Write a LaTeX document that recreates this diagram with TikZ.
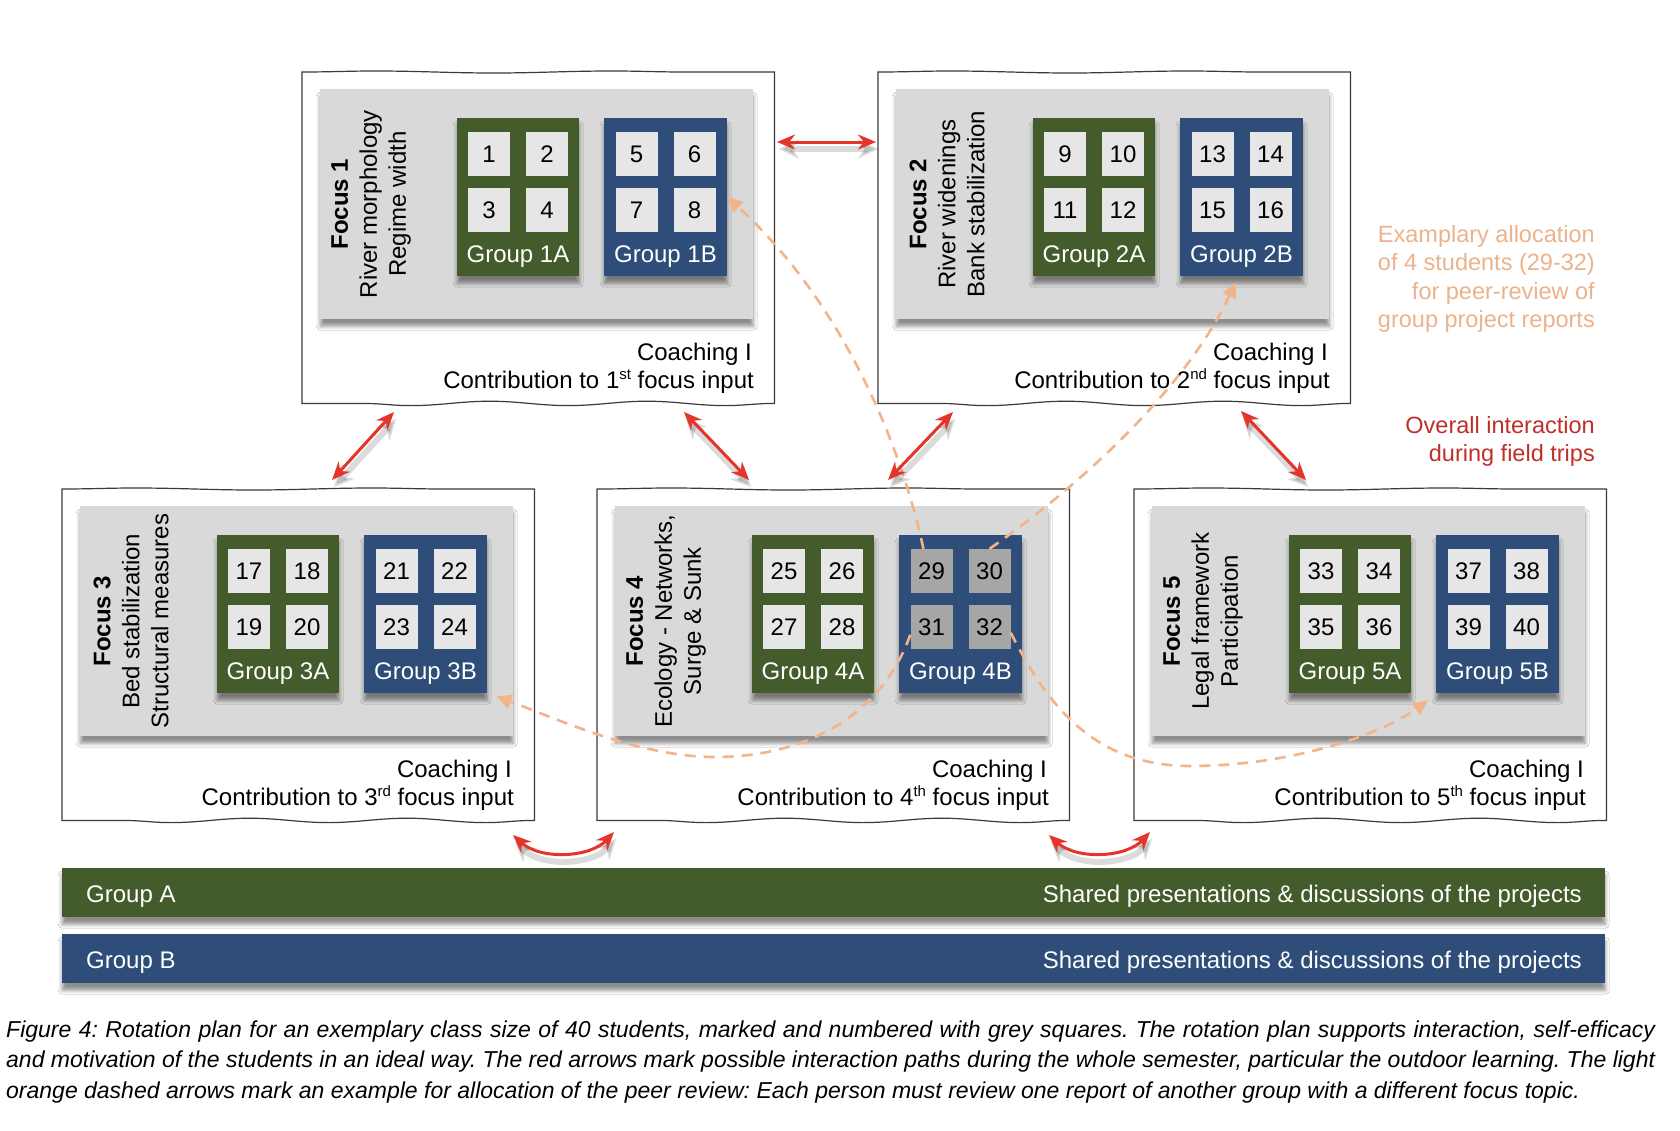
\documentclass[tikz,border=0pt]{standalone}
\usepackage{fontspec}
\setmainfont{Liberation Sans}
\frenchspacing
\usetikzlibrary{arrows.meta,decorations.pathmorphing,shadows.blur,calc}

\definecolor{grpgreen}{HTML}{445C2C}
\definecolor{grpblue}{HTML}{2E4E79}
\definecolor{boxgray}{HTML}{D9D9D9}
\definecolor{sqgray}{HTML}{E6E6E6}
\definecolor{sqdark}{HTML}{A6A6A6}
\definecolor{arrred}{HTML}{E5352B}
\definecolor{peach}{HTML}{F2B488}
\definecolor{peachtext}{HTML}{EBB38C}
\definecolor{darkred}{HTML}{C0302A}
\definecolor{framecol}{HTML}{3A3A3A}

\tikzset{
  fs/.style={font=\fontsize{24}{29}\selectfont},
  framebox/.style={minimum width=472pt, minimum height=331pt, inner sep=0pt, anchor=north west},
  framepen/.style={draw=framecol, line width=1.2pt},
  softshadow/.style={blur shadow={shadow xshift=0pt, shadow yshift=-7pt, shadow blur radius=4pt, shadow opacity=45}},
  graybox/.style={fill=boxgray, minimum width=433pt, minimum height=230pt, inner sep=0pt, anchor=north west, softshadow},
  grpA/.style={fill=grpgreen, minimum width=122pt, minimum height=158pt, inner sep=0pt, anchor=north west, softshadow},
  grpB/.style={fill=grpblue, minimum width=123pt, minimum height=158pt, inner sep=0pt, anchor=north west, softshadow},
  sq/.style={fill=sqgray, minimum width=42pt, minimum height=44pt, inner sep=0pt, fs},
  sqd/.style={sq, fill=sqdark},
  glabel/.style={text=white, fs, anchor=base, inner sep=0pt},
  focustext/.style={fs, rotate=90, align=center, inner sep=0pt},
  coach/.style={fs, anchor=base east, inner sep=0pt},
  redarr/.style={draw=arrred, line width=3pt, {Stealth[length=18pt,width=15pt]}-{Stealth[length=18pt,width=15pt]}},
  redshadow/.style={draw=black, opacity=0.14, line width=6pt, transform canvas={xshift=2pt,yshift=-7pt}, {Stealth[length=20pt,width=19pt]}-{Stealth[length=20pt,width=19pt]}},
  peacharr/.style={draw=peach, line width=2.6pt, dash pattern=on 11pt off 8pt, -{Triangle[length=15pt,width=14pt]}},
  bar/.style={minimum width=1543pt, minimum height=49pt, inner sep=0pt, anchor=north west, softshadow},
  bartext/.style={text=white, fs, inner sep=0pt},
  sidetext/.style={font=\fontsize{23.5}{28}\selectfont, anchor=base east, inner sep=0pt},
  captext/.style={font=\fontsize{23}{27}\selectfont\itshape, anchor=base west, inner sep=0pt},
}

\newcommand\focusblock[8]{%
  \pgfmathtruncatemacro\na{#6}\pgfmathtruncatemacro\nb{#6+1}%
  \pgfmathtruncatemacro\nc{#6+2}\pgfmathtruncatemacro\nd{#6+3}%
  \pgfmathtruncatemacro\ne{#6+4}\pgfmathtruncatemacro\nf{#6+5}%
  \pgfmathtruncatemacro\ng{#6+6}\pgfmathtruncatemacro\nh{#6+7}%
  \begin{scope}[shift={(#2,#3)}]
    \node[framebox] (fr#1) at (0,0) {};
    \draw[framepen] (fr#1.north west)
      decorate[decoration={snake,amplitude=1pt,segment length=236pt}]{-- (fr#1.north east)}
      -- (fr#1.south east)
      decorate[decoration={snake,amplitude=2.2pt,segment length=157pt}]{-- (fr#1.south west)}
      -- cycle;
    \node[graybox] (gb#1) at (18,17) {};
    \node[grpA] (g#1A) at (155,46) {};
    \node[grpB] (g#1B) at (302,46) {};
    \node[sq] (s\na) at (187,82) {\na};
    \node[sq] (s\nb) at (245,82) {\nb};
    \node[sq] (s\nc) at (187,138) {\nc};
    \node[sq] (s\nd) at (245,138) {\nd};
    \node[#8] (s\ne) at (334.5,82) {\ne};
    \node[#8] (s\nf) at (392.5,82) {\nf};
    \node[#8] (s\ng) at (334.5,138) {\ng};
    \node[#8] (s\nh) at (392.5,138) {\nh};
    \node[glabel] (l#1A) at (216,190) {Group #1A};
    \node[glabel] (l#1B) at (363.5,190) {Group #1B};
    \node[focustext] (ft#1) at (69,132) {\textbf{Focus #1}\\#4\\#5};
    \node[coach] (co#1) at (450,288) {Coaching I};
    \node[coach] (ct#1) at (452,316) {Contribution to #1{\fontsize{15}{15}\selectfont\raisebox{9pt}{#7}} focus input};
  \end{scope}}

\begin{document}
\begin{tikzpicture}[x=1pt,y=-1pt]
\useasboundingbox (0,0) rectangle (1680,1130);
\fill[white] (0,0) rectangle (1680,1130);

\focusblock{1}{302}{72}{River morphology}{Regime width}{1}{st}{sq}
\focusblock{2}{878}{72}{River widenings}{Bank stabilization}{9}{nd}{sq}
\focusblock{3}{62}{489}{Bed stabilization}{Structural measures}{17}{rd}{sq}
\focusblock{4}{597}{489}{Ecology - Networks,}{Surge \& Sunk}{25}{th}{sqd}
\focusblock{5}{1134}{489}{Legal framework}{Participation}{33}{th}{sq}

% bottom bars
\node[bar, fill=grpgreen] (barA) at (62,868) {};
\node[bar, fill=grpblue] (barB) at (62,934) {};
\node[bartext, anchor=base west] (barAl) at (86,902) {Group A};
\node[bartext, anchor=base east] (barAr) at (1582,902) {Shared presentations \& discussions of the projects};
\node[bartext, anchor=base west] (barBl) at (86,968) {Group B};
\node[bartext, anchor=base east] (barBr) at (1582,968) {Shared presentations \& discussions of the projects};

% side notes
\node[sidetext, text=peachtext] (ex1) at (1595,242) {Examplary allocation};
\node[sidetext, text=peachtext] (ex2) at (1595,270.5) {of 4 students (29-32)};
\node[sidetext, text=peachtext] (ex3) at (1595,299) {for peer-review of};
\node[sidetext, text=peachtext] (ex4) at (1595,327.5) {group project reports};
\node[sidetext, text=darkred] (ov1) at (1595,433) {Overall interaction};
\node[sidetext, text=darkred] (ov2) at (1595,461.5) {during field trips};

% peer-review dashed arrows
\draw[peacharr] (s29.110) .. controls (900,440) and (840,300) .. (g1B.east);
\draw[peacharr] (s30.north) .. controls (1060,500) and (1180,400) .. ($(g2B.south)+(-6,6)$);
\draw[peacharr] (s31.200) .. controls (880,720) and (800,757) .. (715,757)
  .. controls (640,757) and (560,720) .. ($(g3B.south east)+(9,3)$);
\draw[peacharr] (s32.345) .. controls (1045,700) and (1090,766) .. (1190,766)
  .. controls (1290,766) and (1380,735) .. ($(g5B.south west)+(-8,7)$);

% red interaction arrows
\coordinate (r1a) at (777,142); \coordinate (r1b) at (876,142);
\coordinate (r2a) at (394,412); \coordinate (r2b) at (332,480);
\coordinate (r3a) at (684,412); \coordinate (r3b) at (749,480);
\coordinate (r4a) at (953,412); \coordinate (r4b) at (888,480);
\coordinate (r5a) at (1241,411); \coordinate (r5b) at (1306,480);
\coordinate (r6a) at (513,835); \coordinate (r6b) at (614,832);
\coordinate (r7a) at (1049,835); \coordinate (r7b) at (1150,832);
\foreach \i in {1,...,5}{
  \draw[redshadow] (r\i a) -- (r\i b);
  \draw[redarr] (r\i a) -- (r\i b);
}
\draw[redshadow] (r6a) .. controls (540,860) and (590,858) .. (r6b);
\draw[redarr] (r6a) .. controls (540,860) and (590,858) .. (r6b);
\draw[redshadow] (r7a) .. controls (1076,860) and (1126,858) .. (r7b);
\draw[redarr] (r7a) .. controls (1076,860) and (1126,858) .. (r7b);

% caption
\node[captext] (cap1) at (6,1037) {\makebox[1649pt][s]{Figure 4: Rotation plan for an exemplary class size of 40 students, marked and numbered with grey squares. The rotation plan supports interaction, self-efficacy}};
\node[captext] (cap2) at (6,1067.5) {\makebox[1649pt][s]{and motivation of the students in an ideal way. The red arrows mark possible interaction paths during the whole semester, particular the outdoor learning. The light}};
\node[captext] (cap3) at (6,1098) {orange dashed arrows mark an example for allocation of the peer review: Each person must review one report of another group with a different focus topic.};
\end{tikzpicture}
\end{document}
